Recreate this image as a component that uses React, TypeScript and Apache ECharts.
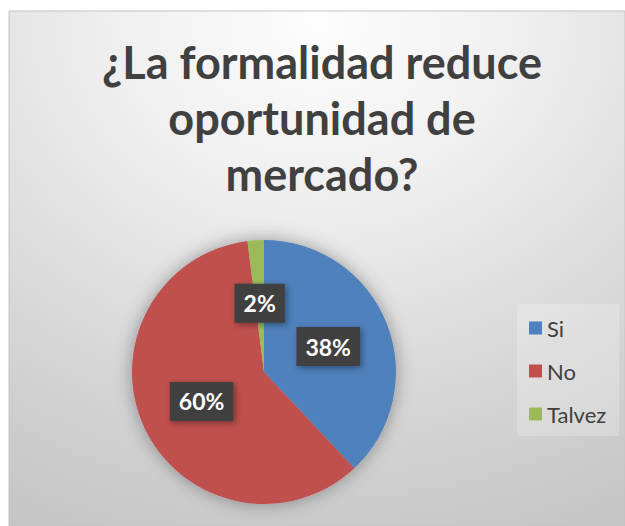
import React, { useEffect, useRef } from "react";
import * as echarts from "echarts";

const titleText = "¿La formalidad reduce\noportunidad de\nmercado?";
const categories = ["Si", "No", "Talvez"];
const values = [38, 60, 2];
const colors = ["#4F81BD", "#C0504D", "#9BBB59"];

export default function App() {
  const ref = useRef<HTMLDivElement>(null);
  useEffect(() => {
    if (!ref.current) return;
    const chart = echarts.init(ref.current, undefined, { renderer: "svg" });
    chart.setOption({
      animation: false,
      backgroundColor: "#ffffff",
      graphic: [
        {
          type: "rect",
          z: -10,
          shape: { x: 9, y: 11, width: 616, height: 515 },
          style: {
            fill: {
              type: "radial",
              x: 0.5,
              y: 0.02,
              r: 1.05,
              colorStops: [
                { offset: 0, color: "#fdfdfd" },
                { offset: 0.3, color: "#f0f0f0" },
                { offset: 0.65, color: "#dadada" },
                { offset: 1, color: "#c6c6c6" },
              ],
            },
            stroke: "#c4c4c4",
            lineWidth: 1,
          },
          silent: true,
        },
        {
          type: "text",
          z: 10,
          x: 322,
          y: 34,
          style: {
            text: titleText,
            align: "center",
            verticalAlign: "top",
            fontFamily: "Lato",
            fontWeight: "bold",
            fontSize: 45,
            lineHeight: 56,
            fill: "#404040",
          },
        },
      ],
      legend: {
        orient: "vertical",
        left: 517,
        top: 304,
        data: categories,
        icon: "rect",
        itemWidth: 13,
        itemHeight: 13,
        itemGap: 21,
        padding: [13, 13, 11, 12],
        backgroundColor: "rgba(255,255,255,0.22)",
        textStyle: { color: "#404040", fontSize: 22, fontFamily: "Lato" },
      },
      series: [
        {
          type: "pie",
          silent: true,
          center: [264, 372],
          radius: 132,
          z: 1,
          label: { show: false },
          labelLine: { show: false },
          itemStyle: {
            color: "#b8b8b8",
            shadowBlur: 18,
            shadowColor: "rgba(0,0,0,0.35)",
          },
          data: [{ value: 1, name: "" }],
        },
        {
          type: "pie",
          center: [264, 372],
          radius: 132,
          z: 2,
          startAngle: 90,
          clockwise: true,
          color: colors,
          itemStyle: { borderWidth: 0 },
          label: {
            show: true,
            position: "inside",
            formatter: "{d}%",
            color: "#ffffff",
            fontFamily: "Lato",
            fontWeight: "bold",
            fontSize: 23,
            backgroundColor: "#3f3f3f",
            padding: [8, 9, 8, 9],
            shadowBlur: 6,
            shadowOffsetX: 2,
            shadowOffsetY: 2,
            shadowColor: "rgba(0,0,0,0.4)",
          },
          labelLine: { show: false },
          data: categories.map((c, i) => ({ name: c, value: values[i] })),
        },
      ],
    });
    return () => chart.dispose();
  }, []);
  return (
    <div
      ref={ref}
      style={{ position: "fixed", left: 0, top: 0, width: 625, height: 526 }}
    />
  );
}
